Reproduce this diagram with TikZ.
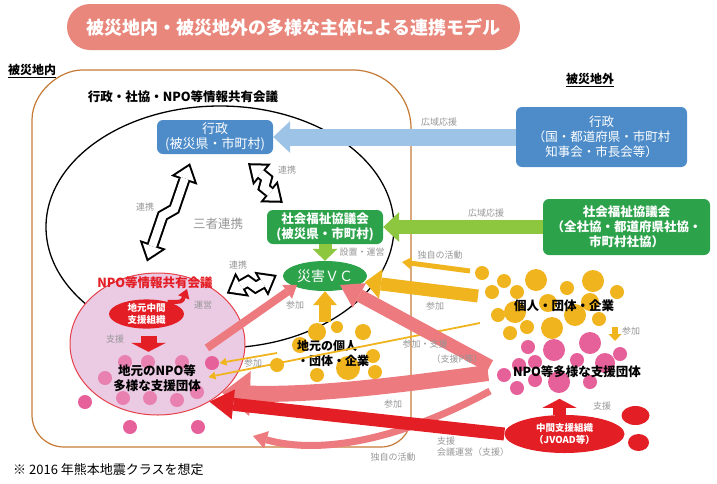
\documentclass[tikz,border=0pt]{standalone}
\usepackage{fontspec}
\setmainfont{Noto Sans CJK JP}
\usetikzlibrary{arrows.meta,calc,shapes.geometric}

\definecolor{titlepink}{HTML}{E9877C}
\definecolor{govblue}{HTML}{4D8CC9}
\definecolor{govlight}{HTML}{9DC3E6}
\definecolor{sgreen}{HTML}{2CA24B}
\definecolor{sgreenlight}{HTML}{8DC63F}
\definecolor{kyellow}{HTML}{F0B41E}
\definecolor{npopink}{HTML}{E6609A}
\definecolor{flowpink}{HTML}{EC7A7E}
\definecolor{jred}{HTML}{E41E25}
\definecolor{circfill}{HTML}{EBCBE4}
\definecolor{circline}{HTML}{E6414A}
\definecolor{arealine}{HTML}{C47A35}
\definecolor{notegray}{HTML}{969696}

\tikzset{
  lbl/.style={text=notegray,font=\fontsize{9}{11}\selectfont,inner sep=1pt},
  headtext/.style={align=center,font=\bfseries\fontsize{12.5}{15}\selectfont,inner sep=0pt},
  govbox/.style={fill=govblue,text=white,rounded corners=6pt,align=center,inner sep=0pt},
  sgbox/.style={fill=sgreen,text=white,rounded corners=6pt,align=center,inner sep=0pt},
  band/.style n args={3}{line width=#1,-{Triangle[width=#2,length=#3,line width=0pt]}},
  thinflow/.style={kyellow,line width=1.8pt,-{Triangle[width=8pt,length=7pt,line width=0pt]}},
  linkout/.style={black,line width=12pt,{Triangle[width=28pt,length=18pt,line width=0pt]}-{Triangle[width=28pt,length=18pt,line width=0pt]}},
  linkin/.style={white,line width=8pt,shorten <=3.3pt,shorten >=3.3pt,{Triangle[width=19.8pt,length=12.7pt,line width=0pt]}-{Triangle[width=19.8pt,length=12.7pt,line width=0pt]}}
}

\begin{document}
\begin{tikzpicture}[x=1pt,y=-1pt]
\useasboundingbox (0,0) rectangle (717,483);

% title
\node[fill=titlepink,rounded corners=23pt,minimum width=453pt,minimum height=46pt,text=white,font=\bfseries\fontsize{18}{20}\selectfont] (title) at (293.5,27) {被災地内・被災地外の多様な主体による連携モデル};
\node[anchor=west,font=\bfseries\fontsize{12}{14}\selectfont,inner sep=0pt] (inlbl) at (8,71) {\underline{被災地内}};
\node[font=\bfseries\fontsize{12}{14}\selectfont,inner sep=0pt] (outlbl) at (590,80) {\underline{被災地外}};

% disaster area
\draw[arealine,line width=1.2pt] (32,120) .. controls (32,92.4) and (59.6,70) .. (82,70) -- (353,70) .. controls (385,70) and (411,96) .. (411,128) -- (411,417) .. controls (411,433.6) and (397.6,447) .. (381,447) -- (64,447) .. controls (46.3,447) and (32,432.7) .. (32,415) -- cycle;

% information sharing meeting
\draw[line width=1.3pt] (220,227) ellipse [x radius=174pt,y radius=121pt];
\node[headtext] (meet) at (183,97) {行政・社協・NPO等情報共有会議};
\node[text=notegray,font=\fontsize{12.5}{14}\selectfont] (three) at (218,224) {三者連携};

\node[govbox,minimum width=116pt,minimum height=34pt,font=\fontsize{13}{15}\selectfont] (gov) at (215,137) {行政\\(被災県・市町村)};
\node[sgbox,minimum width=116pt,minimum height=34pt,font=\bfseries\fontsize{12.5}{14.5}\selectfont] (sg) at (325,227) {社会福祉協議会\\(被災県・市町村)};
\node[ellipse,fill=sgreen,minimum width=84pt,minimum height=30pt,inner sep=0pt,text=white,font=\fontsize{14}{16}\selectfont] (vc) at (325,276) {災害ＶＣ};

% outside
\node[govbox,minimum width=171pt,minimum height=60pt,font=\fontsize{12.5}{15}\selectfont] (govout) at (601.5,137) {行政\\（国・都道府県・市町村\\知事会・市長会等）};
\node[sgbox,minimum width=167pt,minimum height=56pt,font=\bfseries\fontsize{12.5}{15}\selectfont] (sgout) at (626.5,227) {社会福祉協議会\\（全社協・都道府県社協・\\市町村社協）};

% local NPO meeting
\node[ellipse,draw=circline,line width=1pt,fill=circfill,minimum width=175pt,minimum height=142pt,inner sep=0pt] (npoc) at (157.5,344) {};
\foreach \x/\y in {125/362,148/362,182/362,105/378,197/392,123/398,150/398,177/400}
  \fill[npopink!70!circfill] (\x,\y) circle[radius=7pt];
\fill[npopink] (212,363) circle[radius=7pt];
\foreach \x/\y in {85/402,130/427,198/427}
  \fill[npopink] (\x,\y) circle[radius=7pt];
\node[ellipse,fill=jred,minimum width=75pt,minimum height=28pt,inner sep=0pt,text=white,align=center,font=\bfseries\fontsize{9.5}{11.5}\selectfont] (midorg) at (146.5,314) {地元中間\\支援組織};
\node[headtext,text=jred] (mtglbl) at (155,283) {NPO等情報共有会議};
\node[headtext] (lnpo) at (157,378) {地元のNPO等\\多様な支援団体};

% local people
\foreach \x/\y/\r in {317/332/9,337/327/6,363/332/8,277/365/7,348/368/12,373/356/7,375/372/7,317/375/7,300/345/8}
  \fill[kyellow] (\x,\y) circle[radius=\r pt];
\node[headtext,align=left,font=\bfseries\fontsize{12}{15}\selectfont] (lppl) at (333,353) {地元の個人\\・団体・企業};

% outside groups
\foreach \x/\y/\r in {482/273/7,504/281/7,536/280/11,492/292/7,517/292/7,567/288/7,593/281/11,617/292/7,498/315/7,515/312/11,527/327/7,552/328/11,575/315/11,599/319/7,510/333/7,590/302/9,548/303/9}
  \fill[kyellow] (\x,\y) circle[radius=\r pt];
\node[headtext] (ppl) at (564,306) {個人・団体・企業};
\foreach \x/\y/\r in {528/347/7,554/350/11,577/360/7,590/343/11,620/354/7,504/375/7,519/365/7,535/362/7,559/382/11,590/382/7,605/363/10,517/388/7,535/380/7}
  \fill[npopink] (\x,\y) circle[radius=\r pt];
\node[headtext] (npos) at (577,372) {NPO等多様な支援団体};

\node[ellipse,fill=jred,minimum width=120pt,minimum height=38pt,inner sep=0pt,text=white,align=center,font=\bfseries\fontsize{9.5}{12}\selectfont] (jvoad) at (564.5,434) {中間支援組織\\（JVOAD等）};
\fill[jred] (635.5,415.5) ellipse [x radius=14pt,y radius=9.5pt];
\fill[jred] (638.5,442.5) ellipse [x radius=10.5pt,y radius=8.5pt];

% free ends
\coordinate (lpptop) at (325,322);
\coordinate (npoin) at (207,348);
\coordinate (pplA) at (478,296);
\coordinate (pplB) at (470,271);
\coordinate (pplBend) at (402,262);
\coordinate (pplC) at (480,323);
\coordinate (lppC) at (277,353);
\coordinate (npoA) at (488,373);
\coordinate (npoB) at (490,366);
\coordinate (npoC) at (490,391);
\coordinate (npoCend) at (253,436);
\coordinate (pplD) at (615,327);
\coordinate (npoD) at (615,341);
\coordinate (mtgpt) at (187,289);

% wide area support
\draw[band={17pt}{32pt}{17pt},govlight] (govout.west) -- (gov.east);
\draw[band={14pt}{30pt}{16pt},sgreenlight] (sgout.west) -- (sg.east);
\draw[band={13pt}{25pt}{12pt},sgreenlight] (sg.south) -- (vc.north);

% participation
\draw[band={12pt}{24pt}{14pt},kyellow] (lpptop) -- (vc.south);
\draw[band={8pt}{17pt}{12pt},flowpink] (npoin) -- ([xshift=-28pt,yshift=-9pt]vc.center);
\draw[band={5pt}{12pt}{9pt},kyellow] (pplB) -- (pplBend);
\draw[band={13pt}{30pt}{16pt},kyellow] (pplA) -- ([xshift=40pt,yshift=-6pt]vc.center);
\draw[thinflow] (pplC) -- ([xshift=51pt,yshift=-33pt]npoc.center);
\draw[thinflow] (lppC) -- ([xshift=62pt,yshift=-19pt]npoc.center);
\draw[band={13pt}{28pt}{22pt},flowpink] (npoB) -- ([xshift=15pt,yshift=-9pt]vc.center);
\draw[band={16pt}{45pt}{28pt},flowpink] (npoA) .. controls (420,382) and (320,396) .. (npoc.-37);
\draw[band={7pt}{18pt}{14pt},flowpink] (npoC) .. controls (400,440) and (320,455) .. (npoCend);
\draw[band={13pt}{30pt}{24pt},jred] (jvoad.west) -- (npoc.-48);
\draw[band={13pt}{34pt}{9pt},jred] ([xshift=-5pt]jvoad.north) -- ([xshift=-5pt,yshift=16pt]jvoad.north);
\draw[band={6pt}{13pt}{7pt},kyellow] (pplD) -- (npoD);
\draw[band={16pt}{35pt}{9pt},jred] ([xshift=2pt,yshift=-7pt]midorg.south) -- ([xshift=2pt,yshift=-23pt]midorg.south);
\draw[jred,line width=4pt,-{Triangle[width=12pt,length=9pt,line width=0pt]}] (midorg.30) .. controls (182,302) .. (mtgpt);

% cooperation
\coordinate (l1s) at ([xshift=-25pt,yshift=-9pt]gov.south);
\coordinate (l1e) at ([xshift=-10.5pt,yshift=11pt]npoc.north);
\coordinate (l2s) at ([xshift=33pt,yshift=-9pt]gov.south);
\coordinate (l2e) at ([xshift=16pt,yshift=7pt]sg.north west);
\coordinate (l3s) at ([xshift=7pt]npoc.north east);
\coordinate (l3e) at ([xshift=-6pt,yshift=1pt]vc.west);
\draw[linkout] (l1s) -- ($(l1s)!.45!(l1e)!4pt!90:(l1e)$) -- ($(l1s)!.55!(l1e)!4pt!-90:(l1e)$) -- (l1e);
\draw[linkin] (l1s) -- ($(l1s)!.45!(l1e)!4pt!90:(l1e)$) -- ($(l1s)!.55!(l1e)!4pt!-90:(l1e)$) -- (l1e);
\draw[linkout] (l2s) -- ($(l2s)!.45!(l2e)!4pt!90:(l2e)$) -- ($(l2s)!.55!(l2e)!4pt!-90:(l2e)$) -- (l2e);
\draw[linkin] (l2s) -- ($(l2s)!.45!(l2e)!4pt!90:(l2e)$) -- ($(l2s)!.55!(l2e)!4pt!-90:(l2e)$) -- (l2e);
\draw[linkout] (l3s) -- ($(l3s)!.45!(l3e)!4pt!90:(l3e)$) -- ($(l3s)!.55!(l3e)!4pt!-90:(l3e)$) -- (l3e);
\draw[linkin] (l3s) -- ($(l3s)!.45!(l3e)!4pt!90:(l3e)$) -- ($(l3s)!.55!(l3e)!4pt!-90:(l3e)$) -- (l3e);

% labels
\node[lbl] (lwide1) at (439,122) {広域応援};
\node[lbl] (lwide2) at (486,213) {広域応援};
\node[lbl] (llink1) at (145,207) {連携};
\node[lbl] (llink2) at (287,170) {連携};
\node[lbl] (llink3) at (238,265) {連携};
\node[lbl] (lset) at (362,252) {設置・運営};
\node[lbl] (lown1) at (440,255) {独自の活動};
\node[lbl] (ljoin1) at (435,306) {参加};
\node[lbl] (ljoin2) at (295,305) {参加};
\node[lbl] (ljoin3) at (253,363) {参加};
\node[lbl] (ljoin4) at (425,344) {参加・支援};
\node[lbl] (ljoin5) at (457,359) {（支援P等）};
\node[lbl] (ljoin6) at (393,404) {参加};
\node[lbl] (lown2) at (393,457) {独自の活動};
\node[lbl,anchor=west,align=left] (lsup1) at (436,447) {支援\\会議運営（支援）};
\node[lbl] (lsup2) at (602,406) {支援};
\node[lbl] (ljoin7) at (631,331) {参加};
\node[lbl] (lrun) at (203,305) {運営};
\node[lbl] (lsup3) at (115,339) {支援};

\node[anchor=west,font=\fontsize{13}{15}\selectfont,inner sep=0pt] (foot) at (13,470) {※ 2016 年熊本地震クラスを想定};
\end{tikzpicture}
\end{document}
